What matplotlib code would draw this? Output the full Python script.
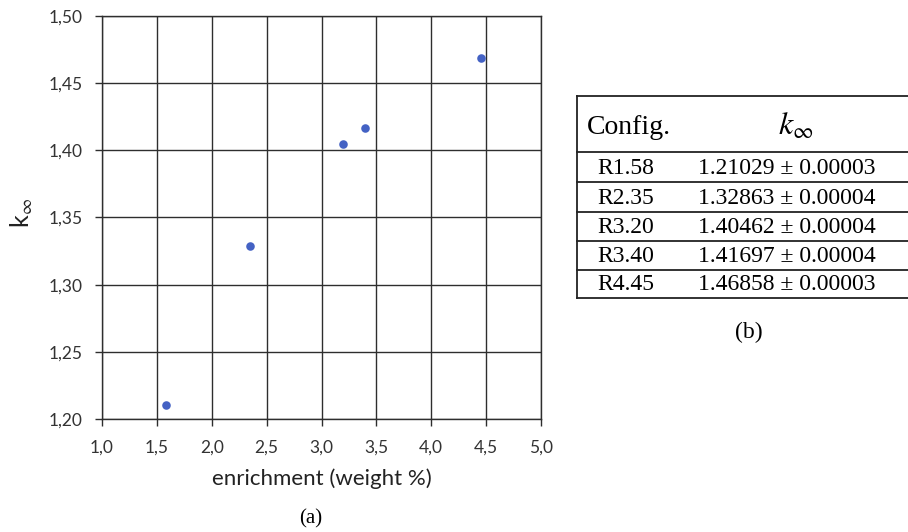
import matplotlib
matplotlib.use("Agg")
import matplotlib.pyplot as plt
from matplotlib.ticker import FuncFormatter, MultipleLocator
from matplotlib.lines import Line2D

plt.rcParams['font.family'] = ['Lato', 'DejaVu Sans']
plt.rcParams['mathtext.fontset'] = 'stix'

# data
enrichment = [1.58, 2.35, 3.20, 3.40, 4.45]
k_inf = [1.21029, 1.32863, 1.40462, 1.41697, 1.46858]
configs = ["R1.58", "R2.35", "R3.20", "R3.40", "R4.45"]
k_text = ["1.21029 \u00b1 0.00003", "1.32863 \u00b1 0.00004", "1.40462 \u00b1 0.00004",
          "1.41697 \u00b1 0.00004", "1.46858 \u00b1 0.00003"]

W, H = 908, 532
fig = plt.figure(figsize=(W / 100, H / 100), dpi=100)

# scatter panel (a)
ax = fig.add_axes([102 / W, 1 - 419 / H, (541 - 102) / W, (419 - 16) / H])
ax.scatter(enrichment, k_inf, s=38, color='#4462c4', zorder=3, linewidths=0)
ax.set_xlim(1.0, 5.0)
ax.set_ylim(1.20, 1.50)
ax.xaxis.set_major_locator(MultipleLocator(0.5))
ax.yaxis.set_major_locator(MultipleLocator(0.05))
ax.xaxis.set_major_formatter(FuncFormatter(lambda v, p: f"{v:.1f}".replace('.', ',')))
ax.yaxis.set_major_formatter(FuncFormatter(lambda v, p: f"{v:.2f}".replace('.', ',')))
ax.grid(True, color='#2e2e2e', linewidth=1.0)
for s in ax.spines.values():
    s.set_color('#2e2e2e')
    s.set_linewidth(1.0)
ax.tick_params(length=5, width=1.0, color='#2e2e2e', labelsize=12.5, labelcolor='#333333')
ax.tick_params(axis='x', pad=10)
ax.tick_params(axis='y', pad=9)
ax.set_xlabel("enrichment (weight %)", fontsize=16, color='#222222', labelpad=9)
ax.set_ylabel(r"k$_{\infty}$", fontsize=18, color='#222222')
ax.yaxis.set_label_coords(-0.153, 0.51)
fig.text(311 / W, 1 - 519 / H, "(a)", family='Liberation Serif', fontsize=15,
         ha='center', va='center')

# table panel (b)
tx0, tx1 = 577, 920
ty = [96, 152, 182, 212, 241, 270, 298]
tab = fig.add_axes([0, 0, 1, 1])
tab.set_xlim(0, W)
tab.set_ylim(H, 0)
tab.axis('off')
for y in ty:
    tab.add_line(Line2D([tx0, tx1], [y, y], color='#222222', linewidth=1.3))
tab.add_line(Line2D([tx0, tx0], [ty[0], ty[-1]], color='#222222', linewidth=1.3))
serif = 'Liberation Serif'
tab.text(587, (ty[0] + ty[1]) / 2 + 3, "Config.", family=serif, fontsize=20, ha='left', va='center')
tab.text(796, (ty[0] + ty[1]) / 2 + 2, r"$k_{\infty}$", fontsize=23, ha='center', va='center')
for i, (c, v) in enumerate(zip(configs, k_text)):
    yc = (ty[i + 1] + ty[i + 2]) / 2 + 1
    tab.text(597, yc, c, family=serif, fontsize=17, ha='left', va='center')
    tab.text(787, yc, v, family=serif, fontsize=17, ha='center', va='center')
tab.text(749, 332, "(b)", family=serif, fontsize=17, ha='center', va='center')

fig.savefig("out.png", dpi=100)
